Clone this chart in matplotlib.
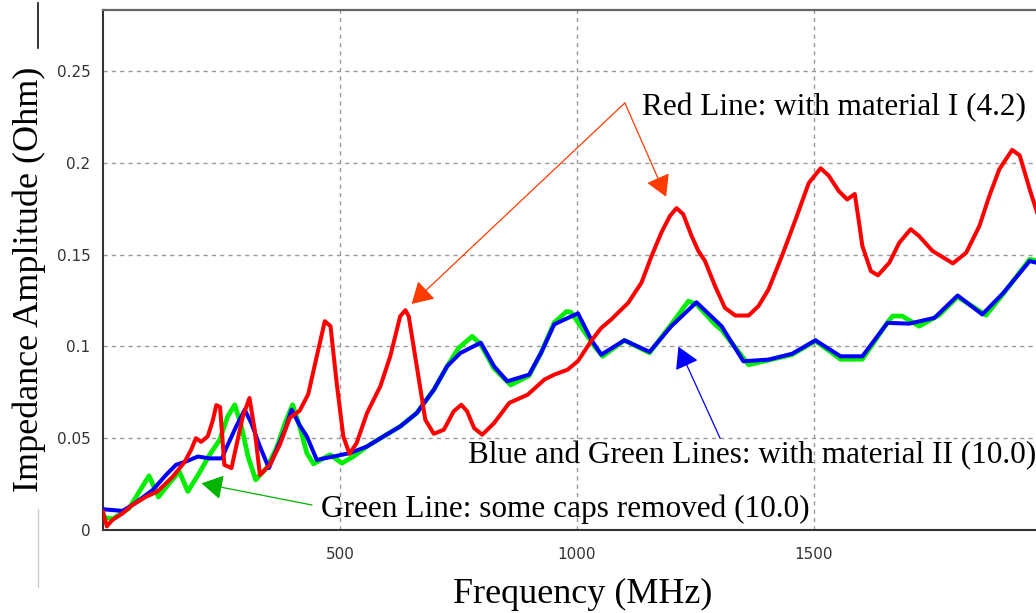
import matplotlib
matplotlib.use("Agg")
import matplotlib.pyplot as plt
from matplotlib.lines import Line2D

# ------------------------------------------------------------
# Data (frequency in MHz, impedance in Ohm)
# ------------------------------------------------------------
red_freq = [0, 8, 20, 41, 62, 90, 115, 147, 172, 186, 196, 207, 221, 232, 239,
            247, 256, 271, 281, 295, 309, 320, 331, 352, 373, 394, 415, 433,
            451, 468, 480, 493, 507, 520, 535, 557, 585, 606, 627, 638, 645,
            662, 680, 698, 719, 740, 756, 768, 783, 800, 825, 857, 896, 931,
            952, 980, 1002, 1030, 1051, 1072, 1108, 1136, 1157, 1178, 1196,
            1210, 1224, 1242, 1256, 1270, 1291, 1312, 1334, 1362, 1383, 1404,
            1432, 1461, 1489, 1514, 1531, 1552, 1570, 1586, 1595, 1602, 1620,
            1635, 1659, 1680, 1704, 1722, 1750, 1793, 1821, 1849, 1870, 1891,
            1918, 1934, 1955, 1973, 1985]
red_imp = [0.010, 0.002, 0.0055, 0.009, 0.0136, 0.018, 0.021, 0.029, 0.037,
           0.0437, 0.050, 0.048, 0.051, 0.060, 0.068, 0.067, 0.0355, 0.0337,
           0.0455, 0.0618, 0.0719, 0.0546, 0.030, 0.0355, 0.0464, 0.061,
           0.0650, 0.0740, 0.0946, 0.1137, 0.111, 0.080, 0.051, 0.0415,
           0.0473, 0.0637, 0.0782, 0.0946, 0.1164, 0.1197, 0.1164, 0.0891,
           0.060, 0.0524, 0.0546, 0.0647, 0.0682, 0.0647, 0.0555, 0.0519,
           0.0582, 0.0692, 0.0737, 0.0819, 0.0846, 0.0873, 0.092, 0.103,
           0.110, 0.1146, 0.1237, 0.1347, 0.149, 0.162, 0.171, 0.1753, 0.172,
           0.160, 0.152, 0.1465, 0.133, 0.121, 0.1168, 0.1168, 0.122, 0.131,
           0.149, 0.169, 0.189, 0.197, 0.193, 0.1847, 0.180, 0.183, 0.1675,
           0.1547, 0.141, 0.1387, 0.1456, 0.1565, 0.1638, 0.160, 0.152,
           0.1452, 0.151, 0.1656, 0.182, 0.1965, 0.207, 0.204, 0.1856, 0.171,
           0.165]

blue_freq = [0, 41, 62, 105, 133, 154, 175, 200, 225, 251, 260, 281, 299, 313,
             331, 350, 366, 384, 398, 415, 430, 451, 486, 521, 557, 592, 627,
             662, 698, 726, 754, 797, 825, 853, 899, 924, 952, 1002, 1030,
             1051, 1100, 1153, 1199, 1252, 1305, 1351, 1404, 1454, 1503, 1556,
             1602, 1655, 1701, 1754, 1803, 1855, 1899, 1955, 1985]
blue_imp = [0.0113, 0.0104, 0.0136, 0.0218, 0.030, 0.0355, 0.0373, 0.040,
            0.039, 0.039, 0.0446, 0.0564, 0.0655, 0.0582, 0.0455, 0.0337,
            0.0437, 0.0546, 0.0655, 0.057, 0.051, 0.0382, 0.040, 0.0419,
            0.0455, 0.051, 0.0564, 0.0637, 0.0764, 0.0892, 0.0964, 0.102,
            0.0892, 0.081, 0.0846, 0.0964, 0.112, 0.118, 0.1037, 0.0955,
            0.1033, 0.097, 0.111, 0.124, 0.111, 0.0919, 0.0928, 0.096, 0.1033,
            0.0946, 0.0946, 0.1128, 0.1124, 0.1155, 0.1277, 0.1174, 0.129,
            0.1465, 0.1445]

green_freq = [0, 20, 55, 97, 117, 140, 161, 179, 203, 225, 246, 263, 278, 292,
              306, 322, 345, 366, 384, 400, 415, 430, 444, 479, 504, 528, 557,
              592, 627, 662, 698, 726, 750, 779, 797, 825, 860, 899, 924, 952,
              978, 987, 1037, 1054, 1100, 1153, 1199, 1235, 1252, 1291, 1305,
              1362, 1404, 1454, 1503, 1556, 1602, 1655, 1666, 1686, 1722, 1764,
              1803, 1863, 1899, 1955, 1985]
green_imp = [0.007, 0.006, 0.0118, 0.0295, 0.018, 0.0255, 0.0318, 0.021,
             0.031, 0.041, 0.049, 0.0618, 0.0682, 0.0564, 0.040, 0.0273,
             0.0337, 0.0446, 0.0582, 0.0682, 0.0564, 0.0419, 0.036, 0.041,
             0.0364, 0.040, 0.0455, 0.051, 0.0564, 0.0637, 0.0764, 0.0892,
             0.099, 0.1055, 0.101, 0.088, 0.079, 0.084, 0.0964, 0.113, 0.119,
             0.1187, 0.100, 0.0946, 0.1033, 0.0965, 0.112, 0.1246, 0.123,
             0.112, 0.109, 0.090, 0.0925, 0.0955, 0.103, 0.093, 0.093, 0.113,
             0.1165, 0.1165, 0.111, 0.117, 0.127, 0.117, 0.1285, 0.1474, 0.146]

x_ticks = [500, 1000, 1500]
y_ticks = [0, 0.05, 0.1, 0.15, 0.2, 0.25]
y_tick_labels = ["0", "0.05", "0.1", "0.15", "0.2", "0.25"]

serif = ["Liberation Serif", "DejaVu Serif"]
tick_font = ["Liberation Sans Narrow", "DejaVu Sans"]

fig = plt.figure(figsize=(10.36, 6.13), dpi=100)
# the axes runs off the right edge of the picture, as in the reference crop
ax = fig.add_axes([103 / 1036, 83 / 613, 948 / 1036, 520 / 613])

ax.plot(green_freq, green_imp, color="#00ee00", lw=3.4, zorder=3)
ax.plot(blue_freq, blue_imp, color="#0000ff", lw=2.9, zorder=4)
ax.plot(red_freq, red_imp, color="#ff0000", lw=2.9, zorder=5)

ax.set_xlim(0, 2000)
ax.set_ylim(0, 0.2832)
ax.set_xticks(x_ticks)
ax.set_yticks(y_ticks)
ax.set_yticklabels(y_tick_labels)
ax.grid(True, color="#999999", linestyle=(0, (3, 3)), lw=1.0)
ax.set_axisbelow(True)
ax.tick_params(length=0, colors="#333333")
ax.tick_params(axis="x", pad=12)
ax.tick_params(axis="y", pad=9)
for lab in ax.get_xticklabels() + ax.get_yticklabels():
    lab.set_family(tick_font)
    lab.set_fontsize(11)

for side in ["left", "bottom"]:
    ax.spines[side].set_color("#333333")
    ax.spines[side].set_linewidth(1.5)
ax.spines["top"].set_color("#666666")
ax.spines["top"].set_linewidth(1.6)
ax.spines["right"].set_visible(False)

ax.set_xlabel("Frequency (MHz)", family=serif, fontsize=26, va="baseline")
ax.xaxis.set_label_coords(0.506, -0.140)
ax.set_ylabel("Impedance Amplitude (Ohm)", family=serif, fontsize=26,
              va="center")
ax.yaxis.set_label_coords(-0.078, 0.483)

# annotations
ax.text(1138, 0.226, "Red Line: with material I (4.2)", family=serif,
        fontsize=22.5, va="baseline")
for tip in [(651, 0.1231), (1188, 0.1815)]:
    ax.annotate("", xy=tip, xytext=(1101, 0.2326),
                arrowprops=dict(arrowstyle="-|>,head_length=0.6,head_width=0.35",
                                color="#ff3c00", lw=0.9, mutation_scale=22,
                                shrinkA=0, shrinkB=0))

ax.text(771, 0.0363, "Blue and Green Lines: with material II (10.0)",
        family=serif, fontsize=22.5, va="baseline", zorder=6)
ax.annotate("", xy=(1214, 0.0998), xytext=(1302, 0.0499),
            arrowprops=dict(arrowstyle="-|>,head_length=0.6,head_width=0.35",
                            color="#0000ff", lw=0.9, mutation_scale=22,
                            shrinkA=0, shrinkB=0))

ax.text(460, 0.0071, "Green Line: some caps removed (10.0)", family=serif,
        fontsize=22.5, va="baseline", zorder=6)
ax.annotate("", xy=(208, 0.0254), xytext=(441, 0.0136),
            arrowprops=dict(arrowstyle="-|>,head_length=0.6,head_width=0.35",
                            color="#00b400", lw=0.9, mutation_scale=22,
                            shrinkA=0, shrinkB=0))

# stray crop marks at the left edge of the reference
fig.add_artist(Line2D([38 / 1036, 38 / 1036], [1 - 3 / 613, 1 - 48 / 613],
                      transform=fig.transFigure, color="#111111", lw=1.2))
fig.add_artist(Line2D([38 / 1036, 38 / 1036], [1 - 509 / 613, 1 - 587 / 613],
                      transform=fig.transFigure, color="#cccccc", lw=1.0))

fig.savefig("out.png", dpi=100)
